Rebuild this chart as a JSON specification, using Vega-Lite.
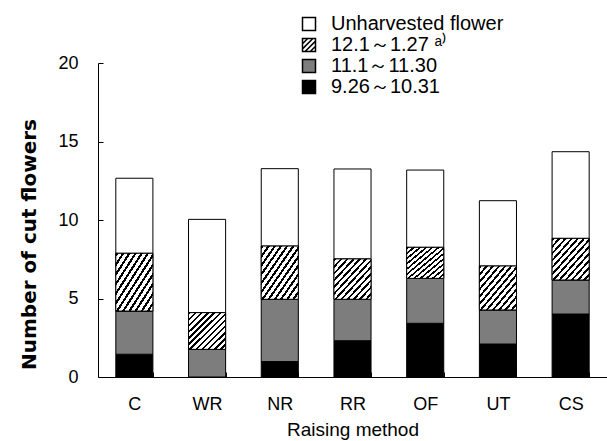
{
  "$schema": "https://vega.github.io/schema/vega-lite/v6.json",
  "autosize": {"type": "none"},
  "padding": {"left": 98, "top": 63, "right": 0, "bottom": 64},
  "width": 509,
  "height": 314,
  "background": "white",
  "config": {
    "view": {"stroke": null},
    "font": "Liberation Sans",
    "axis": {"domainColor": "black", "tickColor": "black", "labelColor": "black", "titleColor": "black", "grid": false}
  },
  "data": {
    "values": [
      {"method": "C", "period": "9.26～10.31", "order": 1, "count": 1.45},
      {"method": "C", "period": "11.1～11.30", "order": 2, "count": 2.75},
      {"method": "C", "period": "12.1～1.27", "order": 3, "count": 3.68},
      {"method": "C", "period": "Unharvested flower", "order": 4, "count": 4.78},
      {"method": "WR", "period": "9.26～10.31", "order": 1, "count": 0},
      {"method": "WR", "period": "11.1～11.30", "order": 2, "count": 1.76},
      {"method": "WR", "period": "12.1～1.27", "order": 3, "count": 2.34},
      {"method": "WR", "period": "Unharvested flower", "order": 4, "count": 5.94},
      {"method": "NR", "period": "9.26～10.31", "order": 1, "count": 0.98},
      {"method": "NR", "period": "11.1～11.30", "order": 2, "count": 3.97},
      {"method": "NR", "period": "12.1～1.27", "order": 3, "count": 3.39},
      {"method": "NR", "period": "Unharvested flower", "order": 4, "count": 4.93},
      {"method": "RR", "period": "9.26～10.31", "order": 1, "count": 2.31},
      {"method": "RR", "period": "11.1～11.30", "order": 2, "count": 2.64},
      {"method": "RR", "period": "12.1～1.27", "order": 3, "count": 2.57},
      {"method": "RR", "period": "Unharvested flower", "order": 4, "count": 5.73},
      {"method": "OF", "period": "9.26～10.31", "order": 1, "count": 3.42},
      {"method": "OF", "period": "11.1～11.30", "order": 2, "count": 2.86},
      {"method": "OF", "period": "12.1～1.27", "order": 3, "count": 1.98},
      {"method": "OF", "period": "Unharvested flower", "order": 4, "count": 4.92},
      {"method": "UT", "period": "9.26～10.31", "order": 1, "count": 2.1},
      {"method": "UT", "period": "11.1～11.30", "order": 2, "count": 2.17},
      {"method": "UT", "period": "12.1～1.27", "order": 3, "count": 2.8},
      {"method": "UT", "period": "Unharvested flower", "order": 4, "count": 4.16},
      {"method": "CS", "period": "9.26～10.31", "order": 1, "count": 4.01},
      {"method": "CS", "period": "11.1～11.30", "order": 2, "count": 2.17},
      {"method": "CS", "period": "12.1～1.27", "order": 3, "count": 2.65},
      {"method": "CS", "period": "Unharvested flower", "order": 4, "count": 5.52}
    ]
  },
  "transform": [
    {"stack": "count", "groupby": ["method"], "sort": [{"field": "order", "order": "ascending"}], "as": ["y0", "y1"]}
  ],
  "encoding": {
    "x": {
      "field": "method", "type": "nominal", "sort": ["C", "WR", "NR", "RR", "OF", "UT", "CS"],
      "scale": {"paddingInner": 0.49, "paddingOuter": 0.245},
      "axis": {"title": "Raising method", "labelAngle": 0, "labelFontSize": 18, "titleFontSize": 19, "titleFontWeight": "normal", "labelPadding": 23, "tickBand": "extent", "tickSize": -5, "titlePadding": 7}
    },
    "y": {
      "field": "y1", "type": "quantitative",
      "scale": {"domain": [0, 20], "nice": false},
      "axis": {"title": "Number of cut flowers", "values": [0, 5, 10, 15, 20], "labelFontSize": 18, "labelPadding": 25, "tickSize": -5, "titleFontSize": 20, "titleFont": "DejaVu Sans", "titleFontWeight": "bold", "titleX": -69, "titleY": 181, "titleBaseline": "middle", "titleAnchor": "middle"}
    }
  },
  "layer": [
    {
      "mark": {"type": "point", "filled": true, "size": 1, "strokeWidth": 0, "opacity": 1},
      "encoding": {
        "fill": {
          "field": "period", "type": "nominal",
          "scale": {"domain": ["Unharvested flower", "12.1～1.27", "11.1～11.30", "9.26～10.31"], "range": ["white", "white", "#7d7d7d", "black"]},
          "legend": {
            "title": null, "orient": "none", "legendX": 201, "legendY": -49,
            "symbolSize": 169, "symbolOpacity": 1, "labelLimit": 400,
            "labelFontSize": 20, "labelColor": "black", "labelOffset": 12, "rowPadding": 1,
            "labelExpr": "datum.label == '12.1～1.27' ? datum.label + '  ᵃ⁾' : datum.label",
            "encode": {"symbols": {"update": {"stroke": {"value": "black"}, "strokeWidth": {"value": 1.5}, "opacity": {"value": 1}}}}
          }
        },
        "shape": {
          "field": "period", "type": "nominal",
          "scale": {"domain": ["Unharvested flower", "12.1～1.27", "11.1～11.30", "9.26～10.31"], "range": ["square", "M-1,-1H1V1H-1Z M-1,-0.2L-0.2,-1 M-1,0.6L0.6,-1 M-0.6,1L1,-0.6 M0.2,1L1,0.2", "square", "square"]},
          "legend": {
            "title": null, "orient": "none", "legendX": 201, "legendY": -49,
            "symbolSize": 169, "symbolOpacity": 1, "labelLimit": 400,
            "labelFontSize": 20, "labelColor": "black", "labelOffset": 12, "rowPadding": 1,
            "labelExpr": "datum.label == '12.1～1.27' ? datum.label + '  ᵃ⁾' : datum.label",
            "encode": {"symbols": {"update": {"stroke": {"value": "black"}, "strokeWidth": {"value": 1.5}, "opacity": {"value": 1}}}}
          }
        }
      }
    },
    {
      "mark": {"type": "bar", "stroke": "black", "strokeWidth": 1, "opacity": 1},
      "encoding": {
        "y2": {"field": "y0"},
        "fill": {
          "field": "period", "type": "nominal",
          "scale": {"domain": ["Unharvested flower", "12.1～1.27", "11.1～11.30", "9.26～10.31"], "range": ["white", "white", "#7d7d7d", "black"]},
          "legend": {
            "title": null, "orient": "none", "legendX": 201, "legendY": -49,
            "symbolSize": 169, "symbolOpacity": 1, "labelLimit": 400,
            "labelFontSize": 20, "labelColor": "black", "labelOffset": 12, "rowPadding": 1,
            "labelExpr": "datum.label == '12.1～1.27' ? datum.label + '  ᵃ⁾' : datum.label",
            "encode": {"symbols": {"update": {"stroke": {"value": "black"}, "strokeWidth": {"value": 1.5}, "opacity": {"value": 1}}}}
          }
        }
      }
    },
    {
      "transform": [{"filter": "datum.order == 3"}],
      "mark": {
        "type": "bar", "stroke": "black", "strokeWidth": 1, "opacity": 1,
        "fill": {"gradient": "linear", "x1": 0, "y1": 0, "x2": 1, "y2": 1, "stops": [
          {"offset": 0, "color": "black"}, {"offset": 0.0333, "color": "black"}, {"offset": 0.0333, "color": "white"}, {"offset": 0.0833, "color": "white"},
          {"offset": 0.0833, "color": "black"}, {"offset": 0.1167, "color": "black"}, {"offset": 0.1167, "color": "white"}, {"offset": 0.1667, "color": "white"},
          {"offset": 0.1667, "color": "black"}, {"offset": 0.2, "color": "black"}, {"offset": 0.2, "color": "white"}, {"offset": 0.25, "color": "white"},
          {"offset": 0.25, "color": "black"}, {"offset": 0.2833, "color": "black"}, {"offset": 0.2833, "color": "white"}, {"offset": 0.3333, "color": "white"},
          {"offset": 0.3333, "color": "black"}, {"offset": 0.3667, "color": "black"}, {"offset": 0.3667, "color": "white"}, {"offset": 0.4167, "color": "white"},
          {"offset": 0.4167, "color": "black"}, {"offset": 0.45, "color": "black"}, {"offset": 0.45, "color": "white"}, {"offset": 0.5, "color": "white"},
          {"offset": 0.5, "color": "black"}, {"offset": 0.5333, "color": "black"}, {"offset": 0.5333, "color": "white"}, {"offset": 0.5833, "color": "white"},
          {"offset": 0.5833, "color": "black"}, {"offset": 0.6167, "color": "black"}, {"offset": 0.6167, "color": "white"}, {"offset": 0.6667, "color": "white"},
          {"offset": 0.6667, "color": "black"}, {"offset": 0.7, "color": "black"}, {"offset": 0.7, "color": "white"}, {"offset": 0.75, "color": "white"},
          {"offset": 0.75, "color": "black"}, {"offset": 0.7833, "color": "black"}, {"offset": 0.7833, "color": "white"}, {"offset": 0.8333, "color": "white"},
          {"offset": 0.8333, "color": "black"}, {"offset": 0.8667, "color": "black"}, {"offset": 0.8667, "color": "white"}, {"offset": 0.9167, "color": "white"},
          {"offset": 0.9167, "color": "black"}, {"offset": 0.95, "color": "black"}, {"offset": 0.95, "color": "white"}, {"offset": 1, "color": "white"}
        ]}
      },
      "encoding": {
        "y2": {"field": "y0"}
      }
    }
  ]
}
